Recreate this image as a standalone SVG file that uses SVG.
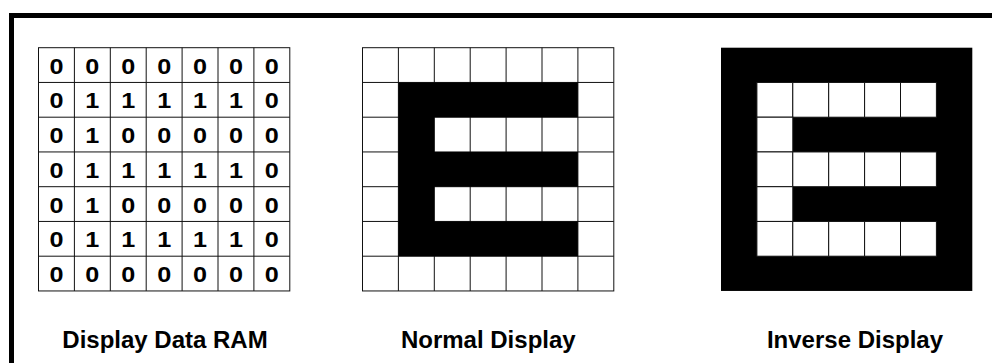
<svg xmlns="http://www.w3.org/2000/svg" width="992" height="363" viewBox="0 0 992 363">
<style>
.bg{fill:#fff}
.frame{fill:none;stroke:#000;stroke-width:5}
.cellw{fill:#fff;stroke:#111;stroke-width:1}
.ln{stroke:#111;stroke-width:1;fill:none}
.blk{fill:#000}
.d{font-family:"Liberation Sans",Arial,sans-serif;font-weight:bold;font-size:22.5px;text-anchor:middle;fill:#000}
.lbl{font-family:"Liberation Sans",Arial,sans-serif;font-weight:bold;font-size:24px;text-anchor:middle;fill:#000}
</style>
<defs>
<g id="gridlines">
<rect x="0" y="0" width="251.3" height="243.25" class="ln"/>
<path class="ln" d="M35.9,0V243.25M71.8,0V243.25M107.7,0V243.25M143.6,0V243.25M179.5,0V243.25M215.4,0V243.25M0,34.75H251.3M0,69.5H251.3M0,104.25H251.3M0,139H251.3M0,173.75H251.3M0,208.5H251.3"/>
</g>
</defs>
<rect class="bg" x="0" y="0" width="992" height="363"/>
<path class="frame" d="M11.5,363V15.5H992"/>

<g id="ram" transform="translate(38.5,47.7)">
<rect x="0" y="0" width="251.3" height="243.25" fill="#fff"/>
<use href="#gridlines"/>
<g class="d" transform="scale(1.12,1)">
<text x="16.03" y="26">0</text><text x="48.08" y="26">0</text><text x="80.13" y="26">0</text><text x="112.19" y="26">0</text><text x="144.24" y="26">0</text><text x="176.29" y="26">0</text><text x="208.35" y="26">0</text>
<text x="16.03" y="60.75">0</text><text x="48.08" y="60.75">1</text><text x="80.13" y="60.75">1</text><text x="112.19" y="60.75">1</text><text x="144.24" y="60.75">1</text><text x="176.29" y="60.75">1</text><text x="208.35" y="60.75">0</text>
<text x="16.03" y="95.5">0</text><text x="48.08" y="95.5">1</text><text x="80.13" y="95.5">0</text><text x="112.19" y="95.5">0</text><text x="144.24" y="95.5">0</text><text x="176.29" y="95.5">0</text><text x="208.35" y="95.5">0</text>
<text x="16.03" y="130.25">0</text><text x="48.08" y="130.25">1</text><text x="80.13" y="130.25">1</text><text x="112.19" y="130.25">1</text><text x="144.24" y="130.25">1</text><text x="176.29" y="130.25">1</text><text x="208.35" y="130.25">0</text>
<text x="16.03" y="165">0</text><text x="48.08" y="165">1</text><text x="80.13" y="165">0</text><text x="112.19" y="165">0</text><text x="144.24" y="165">0</text><text x="176.29" y="165">0</text><text x="208.35" y="165">0</text>
<text x="16.03" y="199.75">0</text><text x="48.08" y="199.75">1</text><text x="80.13" y="199.75">1</text><text x="112.19" y="199.75">1</text><text x="144.24" y="199.75">1</text><text x="176.29" y="199.75">1</text><text x="208.35" y="199.75">0</text>
<text x="16.03" y="234.5">0</text><text x="48.08" y="234.5">0</text><text x="80.13" y="234.5">0</text><text x="112.19" y="234.5">0</text><text x="144.24" y="234.5">0</text><text x="176.29" y="234.5">0</text><text x="208.35" y="234.5">0</text>
</g>
</g>

<g id="normal" transform="translate(362.5,47.7)">
<rect x="0" y="0" width="251.3" height="243.25" fill="#fff"/>
<use href="#gridlines"/>
<path class="blk" d="M35.9,34.75H215.4V69.5H71.8V104.25H215.4V139H71.8V173.75H215.4V208.5H35.9Z"/>
</g>

<g id="inverse" transform="translate(721,47.7)">
<rect class="blk" x="0" y="0" width="251.3" height="243.25"/>
<g class="cellw">
<rect x="35.9" y="34.75" width="35.9" height="34.75"/><rect x="71.8" y="34.75" width="35.9" height="34.75"/><rect x="107.7" y="34.75" width="35.9" height="34.75"/><rect x="143.6" y="34.75" width="35.9" height="34.75"/><rect x="179.5" y="34.75" width="35.9" height="34.75"/>
<rect x="35.9" y="69.5" width="35.9" height="34.75"/>
<rect x="35.9" y="104.25" width="35.9" height="34.75"/><rect x="71.8" y="104.25" width="35.9" height="34.75"/><rect x="107.7" y="104.25" width="35.9" height="34.75"/><rect x="143.6" y="104.25" width="35.9" height="34.75"/><rect x="179.5" y="104.25" width="35.9" height="34.75"/>
<rect x="35.9" y="139" width="35.9" height="34.75"/>
<rect x="35.9" y="173.75" width="35.9" height="34.75"/><rect x="71.8" y="173.75" width="35.9" height="34.75"/><rect x="107.7" y="173.75" width="35.9" height="34.75"/><rect x="143.6" y="173.75" width="35.9" height="34.75"/><rect x="179.5" y="173.75" width="35.9" height="34.75"/>
</g>
</g>

<g id="labels">
<text class="lbl" x="165" y="348">Display Data RAM</text>
<text class="lbl" x="488.3" y="348">Normal Display</text>
<text class="lbl" x="855" y="348">Inverse Display</text>
</g>
</svg>
